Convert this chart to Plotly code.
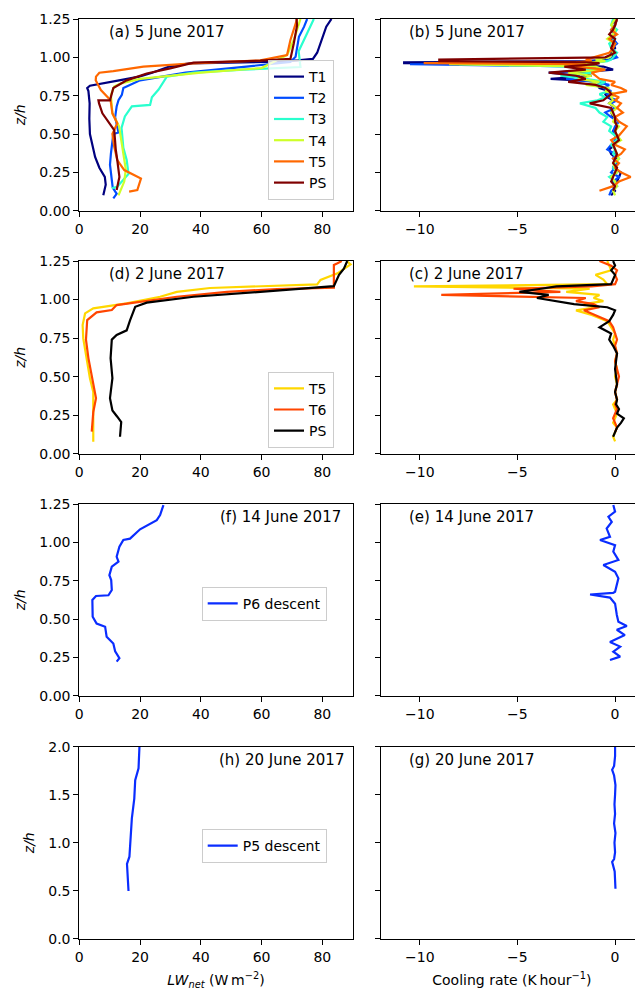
import plotly.graph_objects as go

# ---------------- data ----------------
# Panel (a) 5 June 2017, LW_net profiles
a_T1_x = [7.9, 8.7, 8.4, 6.6, 5.2, 4.6, 3.8, 3.5, 3.3, 3.4, 3.0, 2.6, 3.5, 8.0, 13.1, 19.7, 24.0, 29.6, 36.2, 45.0, 61.5, 72.0, 76.9, 78.3, 80.5, 81.3, 83.0]
a_T1_y = [0.10, 0.17, 0.22, 0.28, 0.35, 0.40, 0.46, 0.50, 0.60, 0.70, 0.78, 0.80, 0.815, 0.83, 0.85, 0.874, 0.90, 0.94, 0.96, 0.963, 0.97, 0.98, 0.99, 1.03, 1.157, 1.20, 1.25]
a_T2_x = [11.2, 12.3, 11.0, 10.7, 10.1, 10.4, 11.2, 12.9, 11.8, 12.3, 12.9, 14.0, 14.5, 20.0, 35.0, 55.0, 68.0, 69.5, 71.2, 71.8, 72.3, 74.0, 75.0]
a_T2_y = [0.08, 0.11, 0.15, 0.20, 0.30, 0.37, 0.50, 0.51, 0.61, 0.68, 0.72, 0.755, 0.80, 0.85, 0.90, 0.94, 0.965, 0.97, 1.004, 1.07, 1.134, 1.20, 1.25]
a_T3_x = [10.7, 12.4, 16.2, 15.6, 14.5, 13.9, 15.0, 17.3, 23.3, 23.9, 26.1, 28.8, 37.6, 54.0, 72.8, 72.2, 75.0, 77.2]
a_T3_y = [0.146, 0.155, 0.24, 0.33, 0.41, 0.54, 0.615, 0.68, 0.69, 0.74, 0.79, 0.874, 0.90, 0.92, 0.937, 1.04, 1.157, 1.25]
a_T4_x = [12.9, 14.8, 15.3, 14.2, 13.1, 10.9, 10.4, 11.5, 13.7, 20.0, 40.0, 60.0, 68.4, 70.6, 72.8]
a_T4_y = [0.10, 0.19, 0.27, 0.42, 0.55, 0.635, 0.754, 0.81, 0.83, 0.86, 0.90, 0.93, 1.015, 1.113, 1.25]
a_T5_x = [16.4, 19.1, 20.3, 14.8, 12.5, 11.5, 10.9, 12.5, 10.9, 10.3, 7.1, 5.4, 5.5, 6.6, 11.2, 21.1, 37.6, 59.6, 68.4, 69.5, 71.7]
a_T5_y = [0.124, 0.135, 0.21, 0.265, 0.33, 0.417, 0.50, 0.57, 0.635, 0.72, 0.787, 0.85, 0.874, 0.90, 0.91, 0.94, 0.96, 0.98, 1.015, 1.113, 1.25]
a_PS_x = [12.3, 13.2, 12.5, 12.0, 11.5, 9.8, 7.6, 6.5, 6.3, 10.1, 11.2, 15.6, 22.2, 29.9, 37.6, 59.6, 69.5, 70.6, 71.7, 71.5]
a_PS_y = [0.135, 0.22, 0.33, 0.40, 0.526, 0.57, 0.635, 0.70, 0.72, 0.72, 0.80, 0.85, 0.895, 0.928, 0.965, 0.978, 0.99, 1.09, 1.21, 1.25]

# Panel (b) 5 June 2017, cooling rate (shared heights)
b_z = [0.10, 0.13, 0.16, 0.19, 0.22, 0.25, 0.28, 0.31, 0.34, 0.37,
       0.40, 0.43, 0.46, 0.49, 0.52, 0.55, 0.58, 0.61, 0.64, 0.67,
       0.70, 0.72, 0.74, 0.76, 0.78, 0.80, 0.82, 0.84, 0.86, 0.88,
       0.90, 0.92, 0.94, 0.955, 0.962, 0.968, 0.975, 0.985, 1.00, 1.03,
       1.06, 1.09, 1.12, 1.15, 1.18, 1.21, 1.25]
b_T1 = [-0.2, 0.0, -0.1, 0.1, 0.2, 0.3, -0.1, 0.0, 0.1, -0.2,
        -0.3, 0.0, 0.1, 0.0, -0.1, 0.1, 0.0, -0.1, -0.2, 0.0,
        -0.3, -0.1, -0.4, -0.5, -0.3, -0.8, -0.9, -0.5, -3.3, -1.2,
        -2.0, -0.1, -0.6, -3.0, -10.8, -10.8, -1.5, -0.3, -0.1, -0.2,
        0.0, -0.1, -0.2, 0.0, -0.1, 0.0, -0.1]
b_T2 = [-0.3, -0.2, 0.1, -0.1, 0.2, -0.2, 0.0, 0.1, -0.1, 0.0,
        -0.4, -0.2, 0.0, 0.1, -0.1, 0.0, 0.2, -0.2, -0.5, 0.0,
        -0.2, 0.1, -0.3, -0.4, -0.2, -0.6, -0.3, -1.0, -2.5, -1.8,
        -3.4, -0.5, -1.5, -10.5, -0.8, -2.0, -0.6, -0.3, 0.1, -0.1,
        -0.2, 0.1, -0.1, 0.0, -0.2, 0.0, 0.1]
b_T3 = [None, None, -0.1, 0.0, -0.3, 0.1, -0.1, 0.0, 0.2, -0.1,
        0.0, -0.2, 0.1, 0.0, -0.3, -0.2, -0.6, -0.4, -0.8, -1.0,
        -1.8, -0.9, -0.5, -0.8, -0.3, -0.4, -0.9, -0.5, -1.5, -2.8,
        -1.2, -1.0, -2.2, -8.0, -1.2, -0.8, -0.4, -0.2, -0.1, 0.1,
        -0.2, -0.3, 0.0, -0.1, 0.1, -0.2, -0.1]
b_T4 = [0.0, -0.1, 0.1, 0.0, -0.2, 0.1, 0.0, -0.1, 0.2, 0.1,
        0.0, -0.1, 0.3, 0.1, 0.0, 0.2, -0.1, 0.0, -0.2, 0.1,
        -0.3, -0.1, -0.2, 0.0, -0.5, -0.3, -1.5, -0.8, -1.9, -1.2,
        -2.4, -0.6, -1.0, -8.5, -1.5, -0.9, -0.5, -1.0, -0.3, -0.1,
        -0.2, 0.0, -0.4, -0.1, 0.0, -0.2, 0.0]
b_T5 = [None, -0.8, -0.1, 0.2, 0.8, 0.3, 0.0, 0.2, -0.1, 0.3,
        0.5, 0.0, -0.2, 0.2, 0.4, 0.6, 0.2, 0.0, 0.4, 0.1,
        0.3, 0.0, 0.2, -0.2, 0.6, 0.3, -0.2, 0.0, -0.8, -1.0,
        -1.2, -0.5, -2.0, -1.5, -9.8, -2.0, -1.2, -1.5, -1.1, -0.3,
        -0.1, 0.0, -0.3, 0.1, -0.2, 0.0, 0.1]
b_PS = [None, -0.1, 0.0, -0.2, -0.1, 0.0, 0.1, -0.1, 0.0, 0.1,
        0.0, -0.1, 0.2, 0.1, 0.0, 0.1, 0.0, 0.0, -0.1, -0.2,
        -1.3, -0.6, -0.4, -0.2, -0.3, -0.5, -1.0, -2.4, -1.5, -2.0,
        -3.4, -1.5, -2.6, -1.0, -0.8, -1.5, -9.0, -9.0, -0.5, 0.0,
        -0.2, -0.1, 0.0, -0.3, -0.1, 0.0, 0.1]

# Panel (d) 2 June 2017, LW_net profiles
d_T5_x = [4.6, 4.6, 4.8, 4.6, 3.5, 2.4, 1.3, 1.1, 1.9, 4.6, 15.6, 26.6, 32.1, 43.0, 59.6, 78.3, 79.4, 85.0, 89.3, 88.0]
d_T5_y = [0.078, 0.19, 0.30, 0.40, 0.489, 0.619, 0.748, 0.835, 0.91, 0.943, 0.975, 1.018, 1.05, 1.075, 1.087, 1.098, 1.127, 1.17, 1.228, 1.25]
d_T6_x = [4.1, 4.6, 5.5, 4.3, 3.0, 2.2, 2.6, 5.7, 10.7, 12.3, 21.1, 32.1, 48.6, 65.1, 83.8, 83.8, 85.0, 86.4]
d_T6_y = [0.143, 0.27, 0.36, 0.49, 0.62, 0.74, 0.867, 0.917, 0.932, 0.964, 0.986, 1.018, 1.05, 1.068, 1.077, 1.224, 1.235, 1.25]
d_PS_x = [13.4, 13.8, 12.5, 10.9, 10.1, 10.9, 10.3, 10.7, 12.3, 15.6, 16.7, 18.4, 22.2, 37.6, 59.6, 83.8, 85.5, 87.1, 88.2]
d_PS_y = [0.11, 0.205, 0.24, 0.28, 0.36, 0.49, 0.62, 0.74, 0.77, 0.80, 0.865, 0.953, 0.98, 1.018, 1.05, 1.087, 1.16, 1.20, 1.25]

# Panel (c) 2 June 2017, cooling rate (shared heights)
c_z = [0.08, 0.11, 0.14, 0.17, 0.20, 0.23, 0.26, 0.29, 0.32, 0.35,
       0.40, 0.45, 0.50, 0.55, 0.60, 0.65, 0.70, 0.74, 0.78, 0.82,
       0.86, 0.90, 0.93, 0.95, 0.97, 0.99, 1.01, 1.03, 1.05, 1.07,
       1.085, 1.10, 1.13, 1.16, 1.19, 1.22, 1.25]
c_T5 = [0.0, -0.1, 0.0, 0.1, -0.1, 0.0, 0.1, 0.0, -0.1, 0.1,
        0.0, 0.1, 0.0, 0.1, 0.0, 0.1, 0.0, -0.1, 0.0, -0.2,
        -0.4, -1.2, -2.0, -1.0, -1.6, -0.6, -1.1, -0.8, -2.5, -1.3,
        -10.3, -0.4, -0.6, -1.0, -0.2, -0.3, -0.4]
c_T6 = [None, None, 0.0, 0.1, 0.0, -0.1, 0.0, 0.1, 0.0, 0.1,
        0.0, 0.1, 0.2, 0.1, 0.0, 0.1, 0.0, 0.1, 0.0, -0.1,
        -0.3, -1.0, -1.6, -0.8, -1.1, -2.0, -1.5, -8.9, -2.8, -5.2,
        -1.2, 0.0, 0.1, 0.0, 0.1, -0.2, -0.8]
c_PS = [None, -0.1, 0.0, 0.1, 0.3, 0.45, 0.1, 0.2, 0.05, 0.1,
        0.0, 0.1, 0.05, 0.0, 0.05, 0.1, -0.1, -0.3, -0.2, -0.8,
        -0.3, -0.1, 0.0, -0.4, -2.1, -3.0, -4.0, -3.4, -4.9, -3.8,
        -3.0, -0.2, -0.1, 0.0, -0.2, 0.0, -0.1]

# Panel (f)/(e) 14 June 2017, P6 descent
f_x = [12.3, 13.2, 11.8, 11.2, 9.0, 8.5, 5.7, 4.4, 4.3, 5.5, 9.6, 10.7, 10.5, 9.9, 10.7, 12.9, 12.3, 13.2, 14.5, 16.7, 20.0, 25.5, 26.6, 27.7]
f_y = [0.222, 0.244, 0.29, 0.34, 0.385, 0.45, 0.47, 0.515, 0.624, 0.65, 0.655, 0.689, 0.754, 0.786, 0.841, 0.874, 0.906, 0.971, 1.015, 1.024, 1.085, 1.145, 1.178, 1.243]
e_x = [-0.26, 0.26, -0.09, 0.26, -0.26, 0.5, 0.09, 0.6, 0.17, 0.09, 0.0, -0.26, -1.28, -0.1, 0.0, 0.09, 0.17, 0.0, -0.6, 0.17, -0.09, 0.0, -0.77, -0.26, -0.43, -0.17, -0.34, 0.0, -0.09]
e_y = [0.233, 0.255, 0.287, 0.32, 0.35, 0.395, 0.43, 0.455, 0.483, 0.526, 0.60, 0.64, 0.66, 0.67, 0.678, 0.732, 0.765, 0.808, 0.852, 0.885, 0.94, 0.982, 1.015, 1.036, 1.09, 1.133, 1.167, 1.2, 1.243]

# Panel (h)/(g) 20 June 2017, P5 descent
h_x = [16.2, 16.0, 15.7, 16.5, 17.3, 18.1, 18.4, 19.5, 19.8]
h_y = [0.497, 0.66, 0.78, 0.854, 1.254, 1.46, 1.65, 1.775, 2.0]
g_x = [0.02, 0.0, -0.02, -0.15, -0.05, 0.0, -0.03, 0.02, -0.05, 0.0, -0.03, 0.0, 0.02, -0.05, -0.15, -0.05, 0.0, 0.0]
g_y = [0.52, 0.6, 0.7, 0.8, 0.83, 0.9, 1.0, 1.1, 1.2, 1.3, 1.4, 1.5, 1.6, 1.7, 1.76, 1.8, 1.9, 2.0]

panel_labels = ["(a) 5 June 2017", "(b) 5 June 2017", "(d) 2 June 2017", "(c) 2 June 2017",
                "(f) 14 June 2017", "(e) 14 June 2017", "(h) 20 June 2017", "(g) 20 June 2017"]
lw_ticks = [0, 20, 40, 60, 80]
cr_ticks = [-10, -5, 0]
cr_ticktext = ["\u221210", "\u22125", "0"]
z_ticks_short = [0.0, 0.25, 0.5, 0.75, 1.0, 1.25]
z_ticks_tall = [0.0, 0.5, 1.0, 1.5, 2.0]

# ---------------- styling ----------------
FONT = "DejaVu Sans"
FS = 14
W, H = 643, 989
OFF = 8  # page body margin in the browser
jet = {"T1": "#00007f", "T2": "#004cff", "T3": "#29ffce", "T4": "#ceff29", "T5": "#ff6800", "PS": "#7f0000"}
c2 = {"T5": "#ffd700", "T6": "#ff4500", "PS": "#000000"}
blue = "#0a2dff"
LWID = 2.2


def fx(p):
    return (p - OFF) / W


def fy(p):
    return 1 - (p - OFF) / H


left_dom = [fx(79.3), fx(352.7)]
right_dom = [fx(380.7), fx(643)]
rows_px = [(19, 210.7), (261, 453.7), (504, 695.7), (746.7, 938.7)]

fig = go.Figure()


def add(x, y, color, ax, name=None, legend=None):
    fig.add_trace(go.Scatter(
        x=x, y=y, mode="lines", name=name if name else "",
        line=dict(color=color, width=LWID),
        xaxis="x" + ("" if ax == 1 else str(ax)), yaxis="y" + ("" if ax == 1 else str(ax)),
        showlegend=name is not None, legend=legend if legend else "legend",
        connectgaps=False, hoverinfo="skip"))


# row 1
for nm, xs, ys in [("T1", a_T1_x, a_T1_y), ("T2", a_T2_x, a_T2_y), ("T3", a_T3_x, a_T3_y),
                   ("T4", a_T4_x, a_T4_y), ("T5", a_T5_x, a_T5_y), ("PS", a_PS_x, a_PS_y)]:
    add(xs, ys, jet[nm], 1, nm, "legend")
for nm, xs in [("T1", b_T1), ("T2", b_T2), ("T3", b_T3), ("T4", b_T4), ("T5", b_T5), ("PS", b_PS)]:
    add(xs, b_z, jet[nm], 2)
# row 2
for nm, xs, ys in [("T5", d_T5_x, d_T5_y), ("T6", d_T6_x, d_T6_y), ("PS", d_PS_x, d_PS_y)]:
    add(xs, ys, c2[nm], 3, nm, "legend2")
for nm, xs in [("T5", c_T5), ("T6", c_T6), ("PS", c_PS)]:
    add(xs, c_z, c2[nm], 4)
# row 3
add(f_x, f_y, blue, 5, "P6 descent", "legend3")
add(e_x, e_y, blue, 6)
# row 4
add(h_x, h_y, blue, 7, "P5 descent", "legend4")
add(g_x, g_y, blue, 8)

base_axis = dict(showline=True, linecolor="black", linewidth=1, ticks="outside", ticklen=5,
                 tickwidth=1, tickcolor="black", showgrid=False, zeroline=False,
                 tickfont=dict(family=FONT, size=FS, color="black"), automargin=False)

layout = {}
for r, (top, bot) in enumerate(rows_px):
    ydom = [fy(bot), fy(top)]
    tall = (r == 3)
    zr = [0, 2.0] if tall else [0, 1.25]
    zt = z_ticks_tall if tall else z_ticks_short
    zfmt = ".1f" if tall else ".2f"
    for c in range(2):
        idx = r * 2 + c + 1
        sfx = "" if idx == 1 else str(idx)
        xa = dict(base_axis, domain=left_dom if c == 0 else right_dom, anchor="y" + sfx, mirror=True)
        if c == 0:
            xa.update(range=[0, 90], tickvals=lw_ticks)
        else:
            xa.update(range=[-12, 1.43], tickvals=cr_ticks, ticktext=cr_ticktext)
        if r == 3:
            if c == 0:
                xa["title"] = dict(text="<i>LW</i><sub><i>net</i></sub> (W\u2009m<sup>\u22122</sup>)",
                                   font=dict(family=FONT, size=FS, color="black"), standoff=11)
            else:
                xa["title"] = dict(text="Cooling rate (K\u2009hour<sup>\u22121</sup>)",
                                   font=dict(family=FONT, size=FS, color="black"), standoff=11)
        ya = dict(base_axis, domain=ydom, anchor="x" + sfx, range=zr, tickvals=zt, tickformat=zfmt)
        if c == 0:
            ya.update(mirror=True, title=dict(text="<i>z/h</i>", font=dict(family=FONT, size=FS, color="black"), standoff=10))
        else:
            ya.update(mirror=False, showticklabels=False)
        layout["xaxis" + sfx] = xa
        layout["yaxis" + sfx] = ya

fig.update_layout(**layout)

# panel labels
label_pos = [(0.10, "left"), (0.10, "left"), (0.10, "left"), (0.10, "left"),
             (0.965, "right"), (0.10, "left"), (0.975, "right"), (0.10, "left")]
for i, txt in enumerate(panel_labels):
    sfx = "" if i == 0 else str(i + 1)
    xp, anc = label_pos[i]
    fig.add_annotation(text=txt, xref="x" + sfx + " domain", yref="y" + sfx + " domain",
                       x=xp, y=0.93, xanchor=anc, yanchor="middle", showarrow=False,
                       font=dict(family=FONT, size=15, color="black"))

leg_style = dict(xanchor="left", yanchor="top", bgcolor="rgba(255,255,255,0.8)",
                 bordercolor="#cccccc", borderwidth=1, font=dict(family=FONT, size=FS, color="black"))
fig.update_layout(
    width=W, height=H, margin=dict(l=0, r=0, t=0, b=0, pad=0, autoexpand=False),
    paper_bgcolor="white", plot_bgcolor="white",
    font=dict(family=FONT, size=FS, color="black"),
    legend=dict(leg_style, x=fx(268), y=fy(60)),
    legend2=dict(leg_style, x=fx(268), y=fy(371.7)),
    legend3=dict(leg_style, x=fx(201.7), y=fy(586.7)),
    legend4=dict(leg_style, x=fx(201.7), y=fy(829)),
)

fig.write_html("out.html")
